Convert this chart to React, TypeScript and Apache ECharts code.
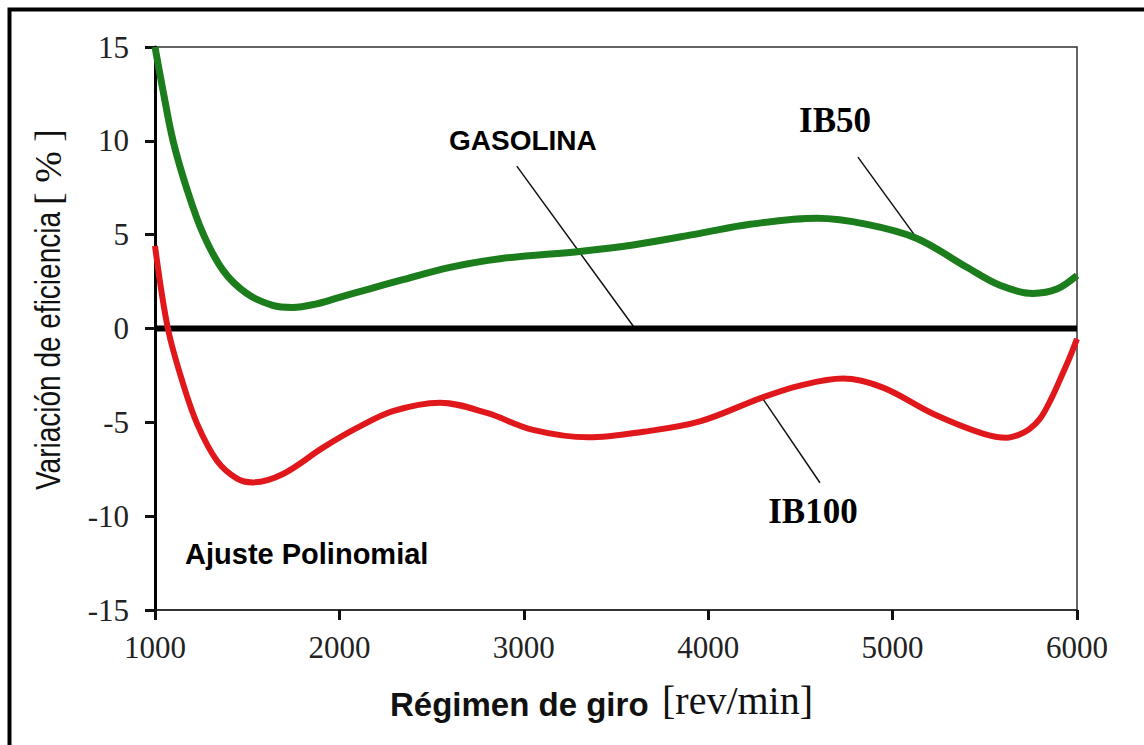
import React, { useEffect, useRef } from "react";
import * as echarts from "echarts";

// Axis ranges
const rpmMin = 1000;
const rpmMax = 6000;
const rpmStep = 1000;
const effMin = -15;
const effMax = 15;
const effStep = 5;

// Efficiency change vs. engine speed [rpm, %]
const ib50Points: number[][] = [
  [1000, 15.0], [1043, 12.7], [1098, 10.0], [1174, 7.4], [1260, 5.07],
  [1369, 3.1], [1497, 1.87], [1638, 1.23], [1746, 1.12], [1870, 1.3],
  [2000, 1.66], [2160, 2.1], [2329, 2.56], [2600, 3.26], [2871, 3.72],
  [3315, 4.12], [3592, 4.45], [3955, 5.07], [4227, 5.55], [4590, 5.87],
  [4861, 5.55], [5132, 4.8], [5403, 3.26], [5582, 2.3], [5761, 1.87],
  [5891, 2.1], [6000, 2.83],
];

const ib100Points: number[][] = [
  [1000, 4.4], [1070, 0], [1152, -2.94], [1228, -5.07], [1336, -7.05],
  [1445, -8.0], [1531, -8.2], [1694, -7.75], [1911, -6.35], [2095, -5.3],
  [2290, -4.4], [2545, -3.95], [2800, -4.5], [3050, -5.4], [3350, -5.8],
  [3650, -5.5], [3955, -4.95], [4292, -3.68], [4498, -3.04], [4731, -2.67],
  [4948, -3.15], [5219, -4.54], [5490, -5.6], [5620, -5.82], [5680, -5.68],
  [5740, -5.38], [5800, -4.8], [5860, -3.75], [5920, -2.45], [5960, -1.55],
  [6000, -0.55],
];

const gasolinaPoints: number[][] = [
  [1000, 0],
  [6000, 0],
];

// Leader lines from each label to its curve
const gasolinaLeader: number[][] = [[2962, 8.65], [3603, 0]];
const ib50Leader: number[][] = [[4812, 9.13], [5132, 4.8]];
const ib100Leader: number[][] = [[4292, -3.68], [4606, -8.22]];

const SANS = '"Liberation Sans", Arial, Helvetica, sans-serif';
const SERIF = '"Liberation Serif", "Times New Roman", Times, serif';

function leader(data: number[][]) {
  return {
    type: "line",
    data,
    symbol: "none",
    silent: true,
    z: 3,
    lineStyle: { color: "#111", width: 1.5 },
  };
}

function tag(
  at: number[],
  text: string,
  font: { family: string; size: number },
  position: string = "inside"
) {
  return {
    type: "scatter",
    data: [at],
    symbolSize: 0,
    silent: true,
    z: 5,
    itemStyle: { opacity: 1 },
    label: {
      show: true,
      position,
      distance: 0,
      formatter: text,
      fontFamily: font.family,
      fontSize: font.size,
      fontWeight: "bold",
      color: "#000",
      opacity: 1,
      textBorderWidth: 0,
    },
  };
}

export default function App() {
  const ref = useRef<HTMLDivElement>(null);

  useEffect(() => {
    if (!ref.current) return;
    const chart = echarts.init(ref.current, undefined, { renderer: "svg" });

    chart.setOption({
      animation: false,
      backgroundColor: "#fff",
      grid: {
        left: 155,
        right: 67,
        top: 47,
        bottom: 135,
        show: true,
        borderColor: "#333",
        borderWidth: 1.5,
      },
      xAxis: {
        type: "value",
        min: rpmMin,
        max: rpmMax,
        interval: rpmStep,
        axisLine: { show: true, onZero: false, lineStyle: { color: "#222", width: 1.5 } },
        axisTick: { show: true, length: 10, lineStyle: { color: "#111", width: 3 } },
        axisLabel: {
          margin: 22,
          fontFamily: SERIF,
          fontSize: 31,
          color: "#222",
          formatter: (v: number) => String(v),
        },
        splitLine: { show: false },
      },
      yAxis: {
        type: "value",
        min: effMin,
        max: effMax,
        interval: effStep,
        axisLine: { show: true, onZero: false, lineStyle: { color: "#000", width: 3 } },
        axisTick: { show: true, length: 10, lineStyle: { color: "#111", width: 3 } },
        axisLabel: { margin: 26, fontFamily: SERIF, fontSize: 31, color: "#222" },
        splitLine: { show: false },
      },
      series: [
        {
          type: "line",
          name: "GASOLINA",
          data: gasolinaPoints,
          symbol: "none",
          z: 4,
          lineStyle: { color: "#000", width: 6 },
        },
        {
          type: "line",
          name: "IB50",
          data: ib50Points,
          symbol: "none",
          smooth: 0.35,
          z: 4,
          lineStyle: { color: "#1b7d1b", width: 7 },
        },
        {
          type: "line",
          name: "IB100",
          data: ib100Points,
          symbol: "none",
          smooth: 0.35,
          z: 4,
          lineStyle: { color: "#e0181b", width: 6 },
        },
        leader(gasolinaLeader),
        leader(ib50Leader),
        leader(ib100Leader),
        tag([2995, 10.04], "GASOLINA", { family: SANS, size: 28 }),
        tag([4688, 11.1], "IB50", { family: SERIF, size: 35 }),
        tag([4568, -9.77], "IB100", { family: SERIF, size: 35 }),
        tag([1163, -12.0], "Ajuste Polinomial", { family: SANS, size: 29 }, "right"),
      ],
      graphic: [
        {
          type: "rect",
          silent: true,
          shape: { x: 9.5, y: 9.5, width: 1400, height: 1000 },
          style: { fill: "none", stroke: "#000", lineWidth: 4 },
        },
        {
          type: "text",
          x: 48,
          y: 351,
          rotation: Math.PI / 2,
          scaleX: 0.8,
          style: {
            text: "Variación de eficiencia",
            font: `35px ${SANS}`,
            fill: "#111",
            align: "center",
            verticalAlign: "middle",
          },
        },
        {
          type: "text",
          x: 48,
          y: 167,
          rotation: Math.PI / 2,
          style: {
            text: "[ % ]",
            font: `38px ${SERIF}`,
            fill: "#111",
            align: "center",
            verticalAlign: "middle",
          },
        },
        {
          type: "text",
          x: 390,
          y: 704,
          style: {
            text: "Régimen de giro",
            font: `bold 33px ${SANS}`,
            fill: "#111",
            align: "left",
            verticalAlign: "middle",
          },
        },
        {
          type: "text",
          x: 662,
          y: 700,
          style: {
            text: "[rev/min]",
            font: `40px ${SERIF}`,
            fill: "#111",
            align: "left",
            verticalAlign: "middle",
          },
        },
      ],
    });

    return () => chart.dispose();
  }, []);

  return (
    <div
      ref={ref}
      style={{ position: "fixed", left: 0, top: 0, width: 1144, height: 745, background: "#fff" }}
    />
  );
}
